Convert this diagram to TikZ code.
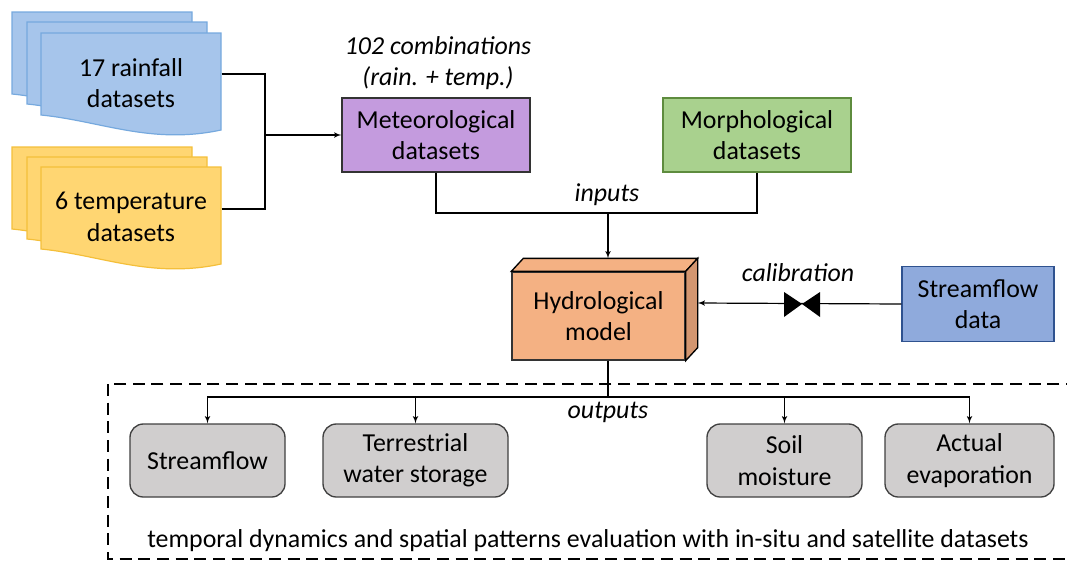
\documentclass[tikz,border=0pt]{standalone}
\usepackage{fontspec}
\setmainfont{Carlito}
\usepackage{tikz}
\usetikzlibrary{arrows,calc}

\definecolor{rainblue}{HTML}{A6C5EB}
\definecolor{raindraw}{HTML}{76A9DE}
\definecolor{tempyellow}{HTML}{FFD672}
\definecolor{tempdraw}{HTML}{F4BF3A}
\definecolor{metviolet}{HTML}{C49BDE}
\definecolor{morphgreen}{HTML}{A9D18E}
\definecolor{morphdraw}{HTML}{5E8C3E}
\definecolor{hydroorange}{HTML}{F4B183}
\definecolor{hydroside}{HTML}{D39670}
\definecolor{flowblue}{HTML}{8FAADC}
\definecolor{flowdraw}{HTML}{2F528F}
\definecolor{outgray}{HTML}{D0CECE}

\tikzset{
  sheet/.pic={\path[pic actions] (0,0) -- (180,0) -- (180,97) .. controls (110,112) and (60,88) .. (0,82) -- cycle;},
  sheetbox/.style={rectangle,minimum width=135pt,minimum height=61.5pt,inner sep=0pt},
  databox/.style={rectangle,draw=black!80,line width=1pt,align=center,minimum width=141pt,minimum height=55.5pt},
  outbox/.style={rectangle,rounded corners=10pt,draw=black!75,line width=1pt,fill=outgray,align=center,minimum height=54.75pt},
  lbl/.style={font=\fontsize{19.4}{23.5}\selectfont\itshape,align=center},
}

\begin{document}
\begin{tikzpicture}[x=0.75pt,y=-0.75pt,>=latex',line width=0.9pt,font=\fontsize{19.4}{23.5}\selectfont]
		\useasboundingbox (0,0) rectangle (1067,561);

		% stacked input sheets
		\pic[fill=rainblue,draw=raindraw] at (12,12) {sheet};
		\pic[fill=rainblue,draw=raindraw] at (27,22) {sheet};
		\pic[fill=rainblue,draw=raindraw] at (41,33) {sheet};
		\pic[fill=tempyellow,draw=tempdraw] at (12,147) {sheet};
		\pic[fill=tempyellow,draw=tempdraw] at (27,157) {sheet};
		\pic[fill=tempyellow,draw=tempdraw] at (41,167) {sheet};

		\node[sheetbox]                  (rain)     at (131,74)    {};
		\node[sheetbox]                  (temp)     at (131,209)   {};
		\node[align=center]              (raintxt)  at (131,83)    {17 rainfall\\datasets};
		\node[align=center]              (temptxt)  at (131,217)   {6 temperature\\datasets};

		\node[databox,fill=metviolet]    (met)      at (436,135)   {Meteorological\\datasets};
		\node[lbl]                       (combi)    at (438,63)    {102 combinations\\(rain. + temp.)};
		\node[databox,fill=morphgreen,draw=morphdraw] (morph) at (757,135) {Morphological\\datasets};

		% hydrological model block
		\node[databox,fill=hydroorange,minimum width=129.75pt,minimum height=66pt] (hydro) at (598.5,316) {Hydrological\\model};
		\draw[fill=hydroorange,line width=1pt] (hydro.north west) -- ++(12,-13) -- ($(hydro.north east)+(12,-13)$) -- (hydro.north east) -- cycle;
		\draw[fill=hydroside,line width=1pt] (hydro.north east) -- ++(12,-13) -- ($(hydro.south east)+(12,-13)$) -- (hydro.south east) -- cycle;

		\node[databox,fill=flowblue,draw=flowdraw,minimum width=114pt,minimum height=56.25pt] (flow) at (978,304) {Streamflow\\data};

		% outputs
		\node[outbox,minimum width=116.25pt] (osf)   at (207.5,460.5) {Streamflow};
		\node[outbox,minimum width=138.75pt] (otws)  at (415.5,460.5) {Terrestrial\\water storage};
		\node[outbox,minimum width=116.25pt] (osm)   at (784.5,460.5) {Soil\\moisture};
		\node[outbox,minimum width=126.75pt] (oae)   at (969.5,460.5) {Actual\\evaporation};

		\coordinate (mj)  at (265,135);
		\coordinate (inj) at (608,213);
		\coordinate (bus) at (608,397);
		\coordinate (valve) at (802,304);

		\draw (rain.east) -| (mj);
		\draw (temp.east) -| (mj);
		\draw[->] (mj) -- (met.west);

		\draw (met.south) |- (inj) -| (morph.south);
		\draw[->] (inj) -- (inj |- {$(hydro.north)+(0,-13)$});
		\node[lbl]                       (inputs)   at (607,195)   {inputs};

		\draw[->] (flow.west) -- ($(hydro.east)+(12,-13)$);
		\fill (valve) -- ++(-18,-12) -- ++(0,25) -- cycle;
		\fill (valve) -- ++(18,-12) -- ++(0,25) -- cycle;
		\node[lbl]                       (calib)    at (798,273)   {calibration};

		\draw (bus |- hydro.south) -- (bus);
		\draw[->] (bus) -| (osf.north);
		\draw[->] (bus) -| (otws.north);
		\draw[->] (bus) -| (osm.north);
		\draw[->] (bus) -| (oae.north);
		\node[lbl]                       (outputs)  at (608,412)   {outputs};

		\draw[dashed,dash pattern=on 9pt off 5pt,line width=0.9pt] (108,384) rectangle (1090,559);
		\node                            (evaltxt)  at (588,541)   {temporal dynamics and spatial patterns evaluation with in-situ and satellite datasets};
\end{tikzpicture}
\end{document}
